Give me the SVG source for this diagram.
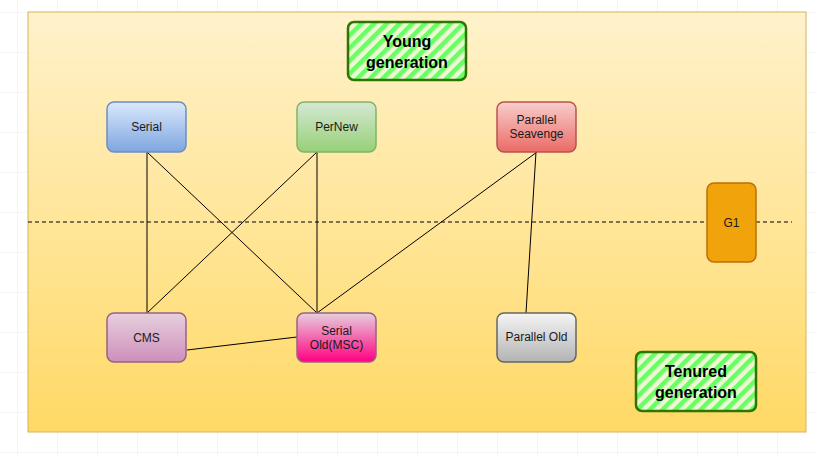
<svg xmlns="http://www.w3.org/2000/svg" width="816" height="456" viewBox="0 0 816 456">
<defs>
<pattern id="grid" width="40" height="40" patternUnits="userSpaceOnUse" x="17" y="12">
<path d="M40 0H0V40" fill="none" stroke="#ececec" stroke-width="1"/>
</pattern>
<linearGradient id="bg" x1="0" y1="0" x2="0" y2="1"><stop offset="0" stop-color="#fff2cc"/><stop offset="1" stop-color="#ffd966"/></linearGradient>
<linearGradient id="gBlue" x1="0" y1="0" x2="0" y2="1"><stop offset="0" stop-color="#dae8fc"/><stop offset="1" stop-color="#7ea6e0"/></linearGradient>
<linearGradient id="gGreen" x1="0" y1="0" x2="0" y2="1"><stop offset="0" stop-color="#d5e8d4"/><stop offset="1" stop-color="#97d077"/></linearGradient>
<linearGradient id="gRed" x1="0" y1="0" x2="0" y2="1"><stop offset="0" stop-color="#f8cecc"/><stop offset="1" stop-color="#ea6b66"/></linearGradient>
<linearGradient id="gPurple" x1="0" y1="0" x2="0" y2="1"><stop offset="0" stop-color="#e6d0de"/><stop offset="1" stop-color="#cd8fbb"/></linearGradient>
<linearGradient id="gPink" x1="0" y1="0" x2="0" y2="1"><stop offset="0" stop-color="#e6d0de"/><stop offset="1" stop-color="#ff0080"/></linearGradient>
<linearGradient id="gGray" x1="0" y1="0" x2="0" y2="1"><stop offset="0" stop-color="#f5f5f5"/><stop offset="1" stop-color="#b3b3b3"/></linearGradient>
<pattern id="hatch" width="9" height="9" patternUnits="userSpaceOnUse" patternTransform="rotate(-45)">
<rect width="9" height="9" fill="#eef8d0"/>
<rect width="9" height="4.5" fill="#66ff66"/>
</pattern>
</defs>
<style>
.node{stroke-width:1.5}
.lbl{font-family:"Liberation Sans",Arial,sans-serif;font-size:12px;fill:#1a1a1a;text-anchor:middle}
.big{font-family:"Liberation Sans",Arial,sans-serif;font-size:16px;font-weight:bold;fill:#000;text-anchor:middle}
.tag{fill:url(#hatch);stroke:#2d7600;stroke-width:2.5}
.edge{stroke:#000;stroke-width:1;fill:none}
</style>
<rect width="816" height="456" fill="#ffffff"/>
<rect width="816" height="456" fill="url(#grid)"/>
<g id="container">
<rect x="28" y="12" width="778" height="420" fill="url(#bg)" stroke="#d6b656" stroke-width="1"/>
</g>
<line x1="28" y1="222" x2="792" y2="222" stroke="#000" stroke-width="1" stroke-dasharray="4,3"/>
<g id="connectors">
<line class="edge" x1="147" y1="152" x2="147" y2="313"/>
<line class="edge" x1="147" y1="152" x2="317" y2="313"/>
<line class="edge" x1="317" y1="152" x2="147" y2="313"/>
<line class="edge" x1="317" y1="152" x2="317" y2="313"/>
<line class="edge" x1="537" y1="152" x2="317" y2="313"/>
<line class="edge" x1="536" y1="152" x2="526" y2="313"/>
<line class="edge" x1="187" y1="350" x2="297" y2="337"/>
</g>
<g id="young">
<rect class="tag" x="348" y="22" width="118" height="58" rx="6"/>
<text class="big" x="407" y="47">Young</text>
<text class="big" x="407" y="68">generation</text>
</g>
<g id="serial">
<rect class="node" x="107" y="102" width="79" height="50" rx="7" fill="url(#gBlue)" stroke="#6c8ebf"/>
<text class="lbl" x="146.5" y="131">Serial</text>
</g>
<g id="pernew">
<rect class="node" x="297" y="102" width="79" height="50" rx="7" fill="url(#gGreen)" stroke="#82b366"/>
<text class="lbl" x="336.5" y="131">PerNew</text>
</g>
<g id="parallel-seavenge">
<rect class="node" x="497" y="102" width="79" height="50" rx="7" fill="url(#gRed)" stroke="#b85450"/>
<text class="lbl" x="536.5" y="124">Parallel</text>
<text class="lbl" x="536.5" y="138">Seavenge</text>
</g>
<g id="g1">
<rect class="node" x="707" y="183" width="49" height="79" rx="7" fill="#f0a30a" stroke="#bd7000"/>
<text class="lbl" x="731.5" y="227">G1</text>
</g>
<g id="cms">
<rect class="node" x="107" y="313" width="79" height="49" rx="7" fill="url(#gPurple)" stroke="#996185"/>
<text class="lbl" x="146.5" y="342">CMS</text>
</g>
<g id="serial-old">
<rect class="node" x="297" y="313" width="79" height="49" rx="7" fill="url(#gPink)" stroke="#996185"/>
<text class="lbl" x="336.5" y="335">Serial</text>
<text class="lbl" x="336.5" y="349">Old(MSC)</text>
</g>
<g id="parallel-old">
<rect class="node" x="497" y="313" width="79" height="49" rx="7" fill="url(#gGray)" stroke="#666666"/>
<text class="lbl" x="536.5" y="341">Parallel Old</text>
</g>
<g id="tenured">
<rect class="tag" x="636" y="352" width="120" height="59" rx="6"/>
<text class="big" x="696" y="377">Tenured</text>
<text class="big" x="696" y="398">generation</text>
</g>
</svg>
